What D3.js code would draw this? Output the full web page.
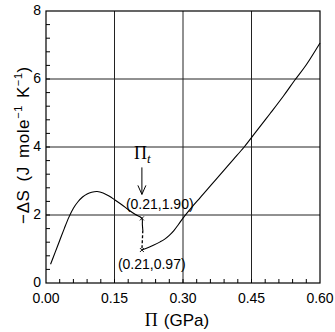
<!DOCTYPE html>
<html>
<head>
<meta charset="utf-8">
<style>
  body { margin: 0; background: #fff; }
  svg text { font-family: "Liberation Sans", Arial, sans-serif; fill: #000; }
  .serif { font-family: "Liberation Serif", "DejaVu Serif", serif; }
</style>
</head>
<body>
<svg id="chart" width="335" height="332"></svg>
<script src="https://d3js.org/d3.v7.min.js"></script>
<script>
"use strict";

// curve below the transition pressure
var lowBranch = [
  [0.010, 0.55], [0.020, 0.90], [0.030, 1.25], [0.040, 1.60], [0.050, 1.93],
  [0.060, 2.20], [0.070, 2.39], [0.080, 2.53], [0.090, 2.62], [0.100, 2.67],
  [0.112, 2.69], [0.125, 2.65], [0.138, 2.56], [0.151, 2.44], [0.166, 2.30],
  [0.180, 2.16], [0.195, 2.02], [0.210, 1.90], [0.211, 1.72], [0.212, 1.55]
];
// jump at the transition (dashed)
var jump = [[0.212, 1.55], [0.210, 0.97]];
// curve above the transition pressure
var highBranch = [
  [0.210, 0.97], [0.220, 1.02], [0.235, 1.11], [0.250, 1.21], [0.260, 1.29],
  [0.270, 1.40], [0.280, 1.54], [0.290, 1.72], [0.300, 1.91], [0.310, 2.08],
  [0.320, 2.24], [0.335, 2.47], [0.350, 2.70], [0.370, 3.01], [0.390, 3.32],
  [0.410, 3.63], [0.434, 4.00], [0.460, 4.45], [0.490, 4.97], [0.520, 5.50],
  [0.545, 5.97], [0.570, 6.42], [0.600, 7.06]
];
var marks = [[0.21, 1.90], [0.21, 0.97]];
var markLabels = ["(0.21,1.90)", "(0.21,0.97)"];

var xTicks = [0, 0.15, 0.30, 0.45, 0.60];
var yTicks = [0, 2, 4, 6, 8];

var svg = d3.select("#chart");
var pLeft = 46, pRight = 320, pTop = 11, pBottom = 283;

var x = d3.scaleLinear().domain([0, 0.6]).range([pLeft, pRight]);
var y = d3.scaleLinear().domain([0, 8]).range([pBottom, pTop]);

// grid
svg.selectAll("line.gx").data(xTicks.slice(1, -1)).enter().append("line")
  .attr("x1", function(d){ return x(d); }).attr("x2", function(d){ return x(d); })
  .attr("y1", pTop).attr("y2", pBottom)
  .attr("stroke", "#222").attr("stroke-width", 1);
svg.selectAll("line.gy").data(yTicks.slice(1, -1)).enter().append("line")
  .attr("y1", function(d){ return y(d); }).attr("y2", function(d){ return y(d); })
  .attr("x1", pLeft).attr("x2", pRight)
  .attr("stroke", "#222").attr("stroke-width", 1);

// minor ticks (inside, left and bottom)
svg.selectAll("line.mx").data(d3.range(1, 20).map(function(i){ return i * 0.03; })).enter().append("line")
  .attr("x1", function(d){ return x(d); }).attr("x2", function(d){ return x(d); })
  .attr("y1", pBottom).attr("y2", pBottom - 4)
  .attr("stroke", "#000");
svg.selectAll("line.my").data(d3.range(1, 20).map(function(i){ return i * 0.4; })).enter().append("line")
  .attr("y1", function(d){ return y(d); }).attr("y2", function(d){ return y(d); })
  .attr("x1", pLeft).attr("x2", pLeft + 4)
  .attr("stroke", "#000");

// frame
svg.append("rect").attr("x", pLeft).attr("y", pTop)
  .attr("width", pRight - pLeft).attr("height", pBottom - pTop)
  .attr("fill", "none").attr("stroke", "#000").attr("stroke-width", 1.2);

// tick labels
svg.selectAll("text.xt").data(xTicks).enter().append("text")
  .attr("x", function(d){ return x(d); }).attr("y", pBottom + 20)
  .attr("text-anchor", "middle").attr("font-size", 14)
  .text(function(d){ return d.toFixed(2); });
svg.selectAll("text.yt").data(yTicks).enter().append("text")
  .attr("x", pLeft - 5).attr("y", function(d){ return y(d) + 4; })
  .attr("text-anchor", "end").attr("font-size", 14)
  .text(function(d){ return d; });

// axis titles
var xt = svg.append("text").attr("x", 177).attr("y", 326).attr("text-anchor", "middle").attr("font-size", 17);
xt.append("tspan").attr("class", "serif").attr("font-size", 18).text("Π");
xt.append("tspan").attr("dx", 6).text("(GPa)");

var yt = svg.append("text").attr("transform", "translate(29,145) rotate(-90)")
  .attr("text-anchor", "middle").attr("font-size", 17).attr("letter-spacing", 0.6);
yt.append("tspan").text("−ΔS");
yt.append("tspan").attr("dx", 8).text("(J");
yt.append("tspan").attr("dx", 8).text("mole");
yt.append("tspan").attr("font-size", 11).attr("dy", -7).text("−1");
yt.append("tspan").attr("dx", 7).attr("dy", 7).text("K");
yt.append("tspan").attr("font-size", 11).attr("dy", -7).text("−1");
yt.append("tspan").attr("dy", 7).text(")");

// curves
var line = d3.line().x(function(d){ return x(d[0]); }).y(function(d){ return y(d[1]); });
var smooth = d3.line().x(function(d){ return x(d[0]); }).y(function(d){ return y(d[1]); }).curve(d3.curveCatmullRom);
svg.append("path").datum(lowBranch).attr("d", smooth).attr("fill", "none").attr("stroke", "#000").attr("stroke-width", 1.1);
svg.append("path").datum(highBranch).attr("d", smooth).attr("fill", "none").attr("stroke", "#000").attr("stroke-width", 1.1);
svg.append("path").datum(jump).attr("d", line).attr("fill", "none").attr("stroke", "#000")
  .attr("stroke-width", 1.3).attr("stroke-dasharray", "3,2");

// x markers
svg.selectAll("path.mk").data(marks).enter().append("path")
  .attr("d", function(d){
    var cx = x(d[0]), cy = y(d[1]), s = 2;
    return "M" + (cx - s) + "," + (cy - s) + "L" + (cx + s) + "," + (cy + s) +
           "M" + (cx - s) + "," + (cy + s) + "L" + (cx + s) + "," + (cy - s);
  })
  .attr("stroke", "#000").attr("stroke-width", 0.9);

// point labels
svg.append("text").attr("x", x(marks[0][0]) - 16).attr("y", y(marks[0][1]) - 9)
  .attr("font-size", 14).text(markLabels[0]);
svg.append("text").attr("x", x(marks[1][0]) - 24).attr("y", y(marks[1][1]) + 19)
  .attr("font-size", 14).text(markLabels[1]);

// Pi_t arrow
var ax = x(marks[0][0]), ay = y(marks[0][1]);
svg.append("line").attr("x1", ax).attr("x2", ax).attr("y1", ay - 51).attr("y2", ay - 24)
  .attr("stroke", "#000").attr("stroke-width", 1);
svg.append("path").attr("d", "M" + (ax - 4) + "," + (ay - 33) + "L" + ax + "," + (ay - 24) + "L" + (ax + 4) + "," + (ay - 33))
  .attr("fill", "none").attr("stroke", "#000").attr("stroke-width", 1);
var pt = svg.append("text").attr("class", "serif").attr("x", ax - 8).attr("y", ay - 59).attr("font-size", 18);
pt.append("tspan").text("Π");
pt.append("tspan").attr("font-style", "italic").attr("font-size", 13).attr("dy", 4).text("t");
</script>
</body>
</html>
